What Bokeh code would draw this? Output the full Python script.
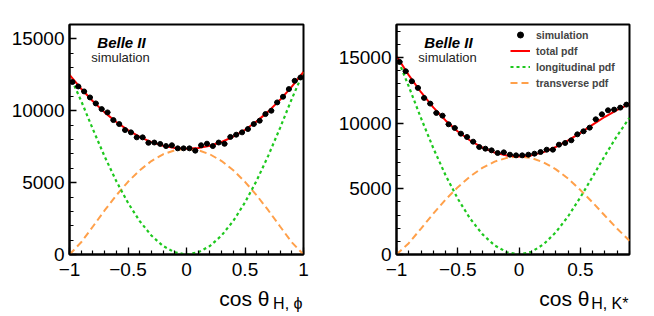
import numpy as np
from bokeh.plotting import figure
from bokeh.layouts import row, column
from bokeh.models import Range1d, FixedTicker, Label, Legend, LegendItem
from bokeh.embed import file_html
from bokeh.resources import INLINE

# ---------------- data: cos theta_H,phi (left) ----------------
phi_lo, phi_hi, phi_nbins = -1.0, 1.0, 40
phi_counts = [12000, 11690, 11343, 10926, 10510, 10116, 9885, 9352, 9075, 8658,
              8496, 8149, 8149, 7770, 7790, 7690, 7545, 7600, 7385, 7385,
              7385, 7223, 7600, 7710, 7545, 7790, 7700, 8180, 8334, 8496,
              8728, 9075, 9306, 9769, 10001, 10580, 10973, 11506, 12084, 12316]
phi_fit_x = [-1.0, -0.9, -0.8, -0.7, -0.6, -0.5, -0.4, -0.3, -0.2, -0.1, 0.0,
             0.1, 0.2, 0.3, 0.4, 0.5, 0.6, 0.7, 0.8, 0.9, 1.0]
phi_total = [12500, 11530, 10659, 9888, 9218, 8650, 8184, 7820, 7559, 7402, 7350,
             7403, 7561, 7825, 8196, 8675, 9261, 9957, 10761, 11675, 12700]
phi_long = [12500, 10682, 8711, 6825, 5103, 3593, 2325, 1318, 589, 148, 0,
            149, 591, 1323, 2337, 3618, 5146, 6894, 8813, 10827, 12700]
phi_trans = [0, 848, 1948, 3063, 4115, 5057, 5859, 6502, 6970, 7254, 7350,
             7254, 6970, 6502, 5859, 5057, 4115, 3063, 1948, 848, 0]

# ---------------- data: cos theta_H,K* (right) ----------------
kst_lo, kst_hi, kst_nbins = -1.0, 0.9, 38
kst_counts = [14656, 13945, 13183, 12675, 11913, 11481, 10770, 10566, 9906, 9627,
              9195, 8941, 8585, 8179, 8052, 7925, 7722, 7772, 7595, 7544,
              7544, 7595, 7671, 7798, 7976, 7976, 8357, 8484, 8687, 9144,
              9373, 9652, 10287, 10668, 10973, 11024, 11176, 11405]
kst_fit_x = [-1.0, -0.9, -0.8, -0.7, -0.6, -0.5, -0.4, -0.3, -0.2, -0.1, 0.0,
             0.1, 0.2, 0.3, 0.4, 0.5, 0.6, 0.7, 0.8, 0.9]
kst_total = [15100, 13647, 12346, 11199, 10204, 9363, 8674, 8139, 7756, 7527, 7450,
             7540, 7790, 8180, 8680, 9260, 9880, 10480, 11010, 11450]
kst_long = [15100, 12787, 10372, 8095, 6033, 4237, 2735, 1549, 691, 174, 0,
            200, 780, 1700, 2910, 4360, 5930, 7530, 9050, 10400]
kst_trans = [0, 860, 1974, 3104, 4171, 5126, 5939, 6590, 7065, 7353, 7450,
             7340, 7010, 6480, 5770, 4900, 3950, 2950, 1960, 1050]

y_major = [0, 5000, 10000, 15000]
legend_labels = ["simulation", "total pdf", "longitudinal pdf", "transverse pdf"]
xlabel_main = "cos \u03b8"
xlabel_sub_left = "H, \u03d5"
xlabel_sub_right = "H, K*"

FONT = "Liberation Sans"
RED = "#ff0000"
GREEN = "#1ec81e"
ORANGE = "#ffa04a"
FIG_W = 327
MAIN_H = 288
LAB_H = 28


def panel(lo, hi, nb, counts, fx, tot, lon, tra, ymax, xmajor, ml, mr, with_legend):
    p = figure(width=FIG_W, height=MAIN_H, x_range=Range1d(lo, hi), y_range=Range1d(0, ymax),
               output_backend="svg", toolbar_location=None,
               min_border_left=ml, min_border_right=mr, min_border_top=24,
               min_border_bottom=MAIN_H - 24 - 230)
    p.grid.visible = False
    p.outline_line_color = "black"
    p.outline_line_width = 2
    p.outline_line_alpha = 1.0
    p.background_fill_color = "white"
    p.border_fill_color = "white"

    xa, ya = p.xaxis[0], p.yaxis[0]
    xa.ticker = FixedTicker(ticks=xmajor,
                            minor_ticks=list(np.round(np.arange(-1.0, hi + 1e-9, 0.1), 2)))
    ya.ticker = FixedTicker(ticks=y_major, minor_ticks=list(range(0, int(ymax) + 1, 1000)))
    xa.major_label_overrides = {-1: "\u22121", -0.5: "\u22120.5", 0: "0", 0.5: "0.5", 1: "1"}
    for ax in (xa, ya):
        ax.major_tick_in = 7
        ax.major_tick_out = 0
        ax.minor_tick_in = 4
        ax.minor_tick_out = 0
        ax.axis_line_width = 2
        ax.major_tick_line_width = 1.3
        ax.minor_tick_line_width = 1.2
        ax.major_label_text_font = FONT
        ax.major_label_text_font_size = "19px"
        ax.major_label_text_color = "black"
    ya.major_label_standoff = 5
    xa.major_label_standoff = 8

    w = (hi - lo) / nb
    centers = lo + w * (np.arange(nb) + 0.5)
    cnt = np.array(counts, dtype=float)
    err = np.sqrt(cnt)

    r_tr = p.line(fx, tra, line_color=ORANGE, line_width=2, line_dash="7 4")
    r_lo = p.line(fx, lon, line_color=GREEN, line_width=2.2, line_dash="3 3")
    r_to = p.line(fx, tot, line_color=RED, line_width=2)
    p.segment(centers - w / 2, cnt, centers + w / 2, cnt, line_color="black", line_width=1.2)
    p.segment(centers, cnt - err, centers, cnt + err, line_color="black", line_width=1.2)
    r_pt = p.scatter(centers, cnt, size=5, marker="circle", fill_color="black", line_color="black")

    p.add_layout(Label(x=52, y=212, x_units="screen", y_units="screen", text="Belle II",
                       text_font=FONT, text_font_size="15px", text_font_style="bold italic",
                       text_align="center", text_baseline="middle", text_color="black"))
    p.add_layout(Label(x=51, y=197, x_units="screen", y_units="screen", text="simulation",
                       text_font=FONT, text_font_size="13px", text_align="center",
                       text_baseline="middle", text_color="#222222"))

    if with_legend:
        items = [LegendItem(label=legend_labels[0], renderers=[r_pt]),
                 LegendItem(label=legend_labels[1], renderers=[r_to]),
                 LegendItem(label=legend_labels[2], renderers=[r_lo]),
                 LegendItem(label=legend_labels[3], renderers=[r_tr])]
        lg = Legend(items=items, location=(114, 164), padding=0, margin=0, spacing=1,
                    glyph_width=20, glyph_height=15, label_height=15, label_standoff=6,
                    label_text_font=FONT, label_text_font_size="10.5px",
                    label_text_font_style="bold", border_line_alpha=0,
                    background_fill_alpha=0)
        p.add_layout(lg)
    return p


def xlabel_fig(ml, mr, sub, sub_w):
    # this strip's frame is aligned (by the column) with the panel frame above it
    fw = FIG_W - ml - mr
    f = figure(width=FIG_W, height=LAB_H, x_range=Range1d(0, fw), y_range=Range1d(0, LAB_H),
               output_backend="svg", toolbar_location=None, min_border=0,
               min_border_left=ml, min_border_right=mr,
               x_axis_location=None, y_axis_location=None)
    f.grid.visible = False
    f.outline_line_color = None
    f.background_fill_color = "white"
    f.border_fill_color = "white"
    f.add_layout(Label(x=fw - 1, y=13, x_units="screen", y_units="screen", text=sub,
                       text_font=FONT, text_font_size="16px", text_align="right",
                       text_baseline="alphabetic", text_color="black"))
    f.add_layout(Label(x=fw - 3 - sub_w, y=18, x_units="screen", y_units="screen",
                       text=xlabel_main, text_font=FONT, text_font_size="21px",
                       text_align="right", text_baseline="alphabetic", text_color="black"))
    return f


p1 = panel(phi_lo, phi_hi, phi_nbins, phi_counts, phi_fit_x, phi_total, phi_long, phi_trans,
           16000, [-1, -0.5, 0, 0.5, 1], 69, 24, False)
p2 = panel(kst_lo, kst_hi, kst_nbins, kst_counts, kst_fit_x, kst_total, kst_long, kst_trans,
           17500, [-1, -0.5, 0, 0.5], 69, 25, True)
l1 = xlabel_fig(69, 24, xlabel_sub_left, 31)
l2 = xlabel_fig(69, 25, xlabel_sub_right, 37)

layout = row(column(p1, l1), column(p2, l2))
open("out.html", "w").write(file_html(layout, INLINE))
